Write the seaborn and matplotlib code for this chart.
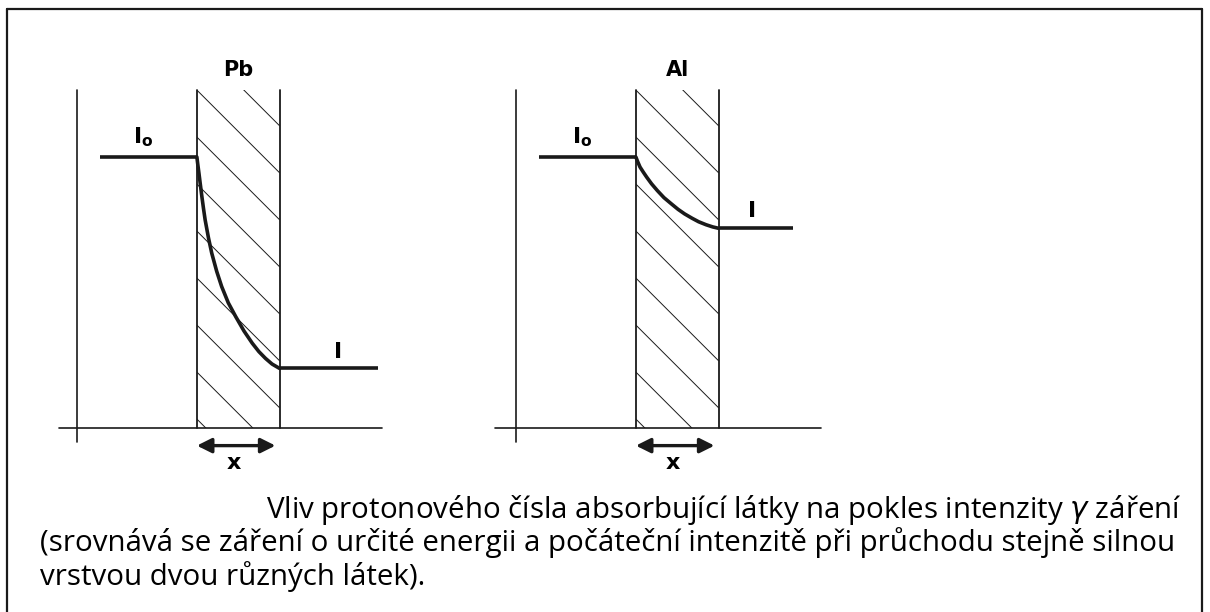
import numpy as np
import matplotlib
matplotlib.use("Agg")
import matplotlib.pyplot as plt
import matplotlib.patches as mpatches
import seaborn as sns

sns.set_theme(style="white")
plt.rcParams['font.family'] = ['Open Sans', 'DejaVu Sans']
plt.rcParams['text.color'] = 'black'

# absorber slab (units: slab thickness), intensities (I0 = 100)
materials = ["Pb", "Al"]
slab_start = 1.48
slab_end = 2.5
intensity_in = 100
depth_pb = [0, 0.01, 0.025, 0.04, 0.06, 0.08, 0.10, 0.14, 0.18, 0.24, 0.30,
            0.38, 0.47, 0.57, 0.67, 0.75, 0.83, 0.91, 1.0]
inten_pb = [100, 97.5, 94.0, 90.3, 85.5, 81.0, 76.8, 70.2, 64.5, 57.8, 52.2,
            46.2, 41.1, 35.8, 31.3, 28.2, 25.7, 23.6, 22.0]
depth_al = [0, 0.02, 0.05, 0.09, 0.13, 0.19, 0.26, 0.34, 0.43, 0.51, 0.59,
            0.68, 0.76, 0.85, 0.93, 1.0]
inten_al = [100, 98.4, 96.3, 94.4, 92.6, 90.1, 87.6, 85.0, 82.7, 80.7, 79.0,
            77.4, 76.1, 75.0, 74.2, 73.7]
line_in_start = [0.29, 0.29]
line_out_end = [3.72, 3.42]
caption = ["Vliv protonového čísla absorbující látky na pokles intenzity $\\gamma$ záření",
           "(srovnává se záření o určité energii a počáteční intenzitě při průchodu stejně silnou",
           "vrstvou dvou různých látek)."]

W, H = 1210, 612
fig = plt.figure(figsize=(W / 100, H / 100), dpi=100)
xs, ys = 81.0, 2.71  # px per unit
xlim = (-0.5, 4.2)
ylim = (-20, 135)
origins = [(77, 428), (516, 428)]
top = 124.7

curves = [(depth_pb, inten_pb), (depth_al, inten_al)]
for i, mat in enumerate(materials):
    ox, oy = origins[i]
    left = ox + xlim[0] * xs
    bottom = oy + (-ylim[0]) * ys
    ax = fig.add_axes([left / W, (H - bottom) / H,
                       (xlim[1] - xlim[0]) * xs / W, (ylim[1] - ylim[0]) * ys / H])
    ax.set_xlim(*xlim)
    ax.set_ylim(*ylim)
    ax.axis("off")

    k = "k"
    # axes
    ax.plot([0, 0], [-5.2, top], color=k, lw=1.2)
    ax.plot([-0.22 if i == 0 else -0.26, 3.76], [0, 0], color=k, lw=1.2)
    # slab
    ax.plot([slab_start, slab_start], [0, top], color=k, lw=1.3)
    ax.plot([slab_end, slab_end], [0, top], color=k, lw=1.3)
    rect = mpatches.Rectangle((slab_start, 0), slab_end - slab_start, top,
                              fill=False, lw=0)
    ax.add_patch(rect)
    # hatching (45 deg in pixel space, 47 px spacing)
    slope = xs / ys
    sp = 47 / ys
    hx = np.array([slab_start, slab_end])
    for n in range(-4, 12):
        hy = top + 3 * sp - n * sp - (hx - slab_start) * slope
        ln, = ax.plot(hx, hy, color=k, lw=0.7)
        ln.set_clip_path(rect)

    d, v = curves[i]
    cx = slab_start + np.array(d) * (slab_end - slab_start)
    ax.plot([line_in_start[i], slab_start], [intensity_in, intensity_in], color=k, lw=2.6,
            solid_capstyle="butt")
    sns.lineplot(x=cx, y=v, ax=ax, color=k, lw=2.6, sort=False)
    ax.plot([slab_end, line_out_end[i]], [v[-1], v[-1]], color=k, lw=2.6,
            solid_capstyle="butt")

    ax.text((slab_start + slab_end) / 2, 132, mat, ha="center", va="center",
            fontsize=15, fontweight="bold", family="DejaVu Sans")
    ax.text(0.82, 103, "I$_{\\mathregular{o}}$", ha="center", va="bottom",
            fontsize=16, fontweight="bold", family="DejaVu Sans")
    ax.text(line_out_end[i] - 0.5, v[-1] + 2.5, "I", ha="center", va="bottom",
            fontsize=16, fontweight="bold", family="DejaVu Sans")
    ax.annotate("", xy=(slab_start, -6.5), xytext=(slab_end - 0.05, -6.5),
                arrowprops=dict(arrowstyle="<|-|>", color=k, lw=2.4, mutation_scale=22,
                                shrinkA=0, shrinkB=0))
    ax.text((slab_start + slab_end) / 2 - 0.05, -12.8, "x", ha="center", va="center",
            fontsize=16, fontweight="bold", family="DejaVu Sans")

# border
fig.add_artist(plt.Line2D([7 / W, 7 / W], [0, 1 - 9 / H], color="k", lw=1.6))
fig.add_artist(plt.Line2D([1202 / W, 1202 / W], [0, 1 - 9 / H], color="k", lw=1.6))
fig.add_artist(plt.Line2D([7 / W, 1202 / W], [1 - 9 / H, 1 - 9 / H], color="k", lw=1.6))

# caption, sized so that the second line spans the text block
fs = 17
t2 = fig.text(40 / W, 1 - 543 / H, caption[1], ha="left", va="center", fontsize=fs)
r = fig.canvas.get_renderer()
wpx = t2.get_window_extent(r).width
fs = fs * (1182 - 40) / wpx
t2.set_fontsize(fs)
fig.text(1182 / W, 1 - 510 / H, caption[0], ha="right", va="center", fontsize=fs)
fig.text(40 / W, 1 - 577 / H, caption[2], ha="left", va="center", fontsize=fs)

fig.savefig("out.png", dpi=100)
